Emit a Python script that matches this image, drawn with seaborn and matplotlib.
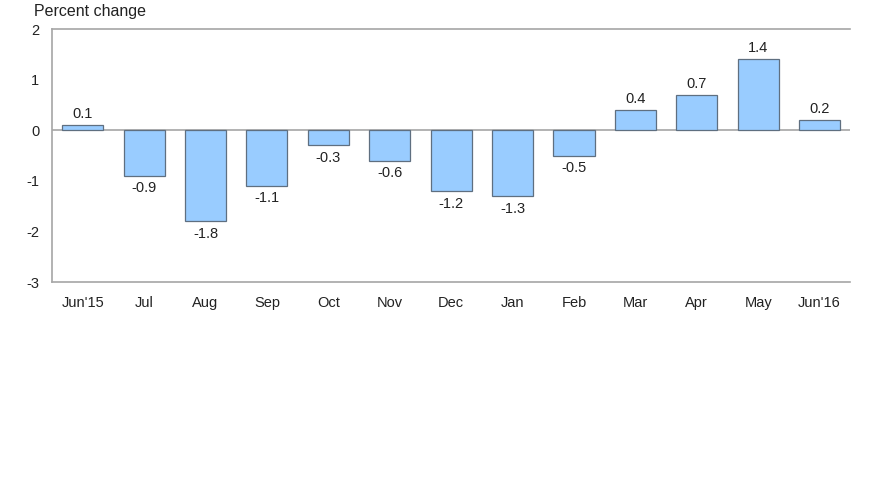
import pandas as pd
import matplotlib
matplotlib.use("Agg")
import matplotlib.pyplot as plt
import seaborn as sns

months = ["Jun'15", "Jul", "Aug", "Sep", "Oct", "Nov", "Dec",
          "Jan", "Feb", "Mar", "Apr", "May", "Jun'16"]
pct_change = [0.1, -0.9, -1.8, -1.1, -0.3, -0.6, -1.2,
              -1.3, -0.5, 0.4, 0.7, 1.4, 0.2]

df = pd.DataFrame({"month": months, "change": pct_change})

sns.set_style("white")
plt.rcParams["font.family"] = ["Liberation Sans", "DejaVu Sans"]

fig = plt.figure(figsize=(8.9, 5.01), dpi=100)
ax = fig.add_axes([0.0584, 0.437, 0.897, 0.505])

sns.barplot(data=df, x="month", y="change", color="#99CCFF", width=0.67,
            edgecolor="#5f6f80", linewidth=0.9, saturation=1, ax=ax)

ax.axhline(0, color="#a6a6a6", linewidth=1.2, zorder=0.5)

# labels above positive bars, below negative ones
for bar, v in zip(ax.patches, pct_change):
    x = bar.get_x() + bar.get_width() / 2
    if v >= 0:
        ax.annotate(f"{v:.1f}", (x, v), xytext=(0, 3), textcoords="offset points",
                    ha="center", va="bottom", fontsize=10.5, color="#222222")
    else:
        ax.annotate(f"{v:.1f}", (x, v), xytext=(0, -4), textcoords="offset points",
                    ha="center", va="top", fontsize=10.5, color="#222222")

ax.set_ylim(-3, 2)
ax.set_yticks([-3, -2, -1, 0, 1, 2])
ax.set_yticklabels(["-3", "-2", "-1", "0", "1", "2"])
ax.set_xlabel("")
ax.set_ylabel("")
ax.tick_params(axis="both", length=0, labelsize=10.5, colors="#222222")
ax.tick_params(axis="x", pad=10)
ax.tick_params(axis="y", pad=9)

for s in ["left", "top", "bottom"]:
    ax.spines[s].set_color("#a6a6a6")
    ax.spines[s].set_linewidth(1.2)
ax.spines["right"].set_visible(False)

fig.text(0.038, 0.978, "Percent change", fontsize=11.5, color="#222222",
         ha="left", va="center")

fig.savefig("out.png", dpi=100)
